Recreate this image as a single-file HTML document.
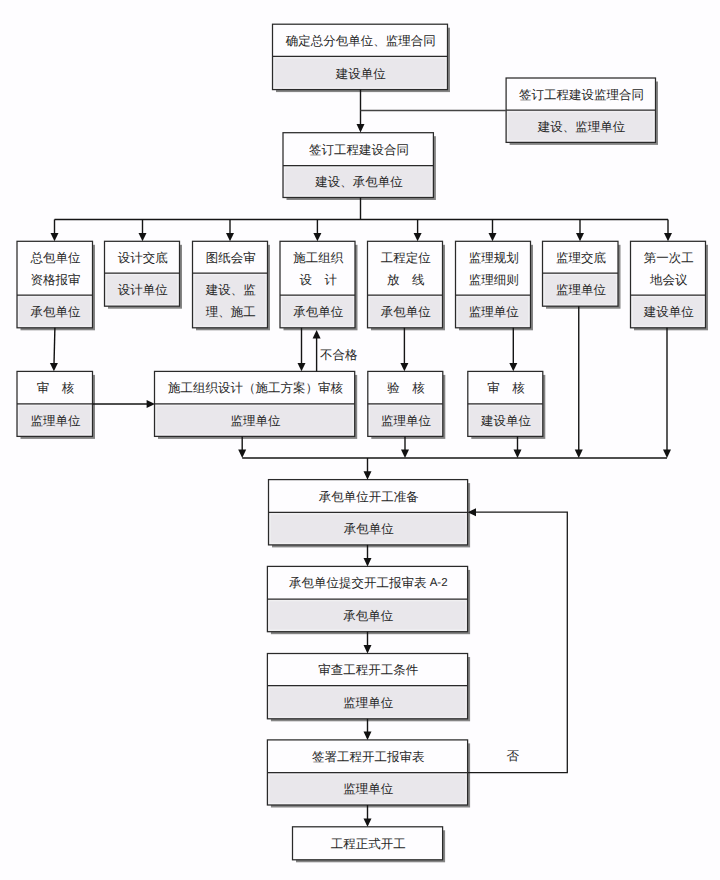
<!DOCTYPE html>
<html><head><meta charset="utf-8"><style>
html,body{margin:0;padding:0;background:#fefdff;width:720px;height:880px;overflow:hidden}
svg{display:block}
text{font-family:'Liberation Serif',serif;font-size:12.5px;fill:#262626;letter-spacing:0px;text-rendering:geometricPrecision}
</style></head><body>
<svg width="720" height="880" viewBox="0 0 720 880">
<rect x="276.0" y="27.7" width="174.0" height="64.4" fill="#858585"/>
<rect x="272.5" y="24.2" width="175.0" height="65.4" fill="#fefdff"/>
<rect x="272.5" y="56.3" width="175.0" height="33.3" fill="#e9e7eb"/>
<rect x="274.1" y="57.9" width="171.8" height="30.1" fill="none" stroke="#f2f1f3" stroke-width="1.1"/>
<line x1="272.5" y1="56.3" x2="447.5" y2="56.3" stroke="#2a2a2a" stroke-width="1.25"/>
<rect x="272.5" y="24.2" width="175.0" height="65.4" fill="none" stroke="#2a2a2a" stroke-width="1.25"/>
<text transform="translate(360.80,40.85)" x="0" y="0" text-anchor="middle" dominant-baseline="central">确定总分包单位、监理合同</text>
<text transform="translate(360.80,73.55)" x="0" y="0" text-anchor="middle" dominant-baseline="central">建设单位</text>
<rect x="509.6" y="81.5" width="148.4" height="63.4" fill="#858585"/>
<rect x="506.1" y="78" width="149.4" height="64.4" fill="#fefdff"/>
<rect x="506.1" y="110.2" width="149.4" height="32.2" fill="#e9e7eb"/>
<rect x="507.7" y="111.8" width="146.2" height="29" fill="none" stroke="#f2f1f3" stroke-width="1.1"/>
<line x1="506.1" y1="110.2" x2="655.5" y2="110.2" stroke="#2a2a2a" stroke-width="1.25"/>
<rect x="506.1" y="78" width="149.4" height="64.4" fill="none" stroke="#2a2a2a" stroke-width="1.25"/>
<text transform="translate(581.60,94.70)" x="0" y="0" text-anchor="middle" dominant-baseline="central">签订工程建设监理合同</text>
<text transform="translate(581.60,126.90)" x="0" y="0" text-anchor="middle" dominant-baseline="central">建设、监理单位</text>
<rect x="286.5" y="136.2" width="149.4" height="63.8" fill="#858585"/>
<rect x="283" y="132.7" width="150.4" height="64.8" fill="#fefdff"/>
<rect x="283" y="165.5" width="150.4" height="32.0" fill="#e9e7eb"/>
<rect x="284.6" y="167.1" width="147.2" height="28.8" fill="none" stroke="#f2f1f3" stroke-width="1.1"/>
<line x1="283" y1="165.5" x2="433.4" y2="165.5" stroke="#2a2a2a" stroke-width="1.25"/>
<rect x="283" y="132.7" width="150.4" height="64.8" fill="none" stroke="#2a2a2a" stroke-width="1.25"/>
<text transform="translate(359.00,149.70)" x="0" y="0" text-anchor="middle" dominant-baseline="central">签订工程建设合同</text>
<text transform="translate(359.00,182.10)" x="0" y="0" text-anchor="middle" dominant-baseline="central">建设、承包单位</text>
<rect x="20.5" y="244.8" width="74.5" height="85.5" fill="#858585"/>
<rect x="17" y="241.3" width="75.5" height="86.5" fill="#fefdff"/>
<rect x="17" y="295" width="75.5" height="32.8" fill="#e9e7eb"/>
<rect x="18.6" y="296.6" width="72.3" height="29.6" fill="none" stroke="#f2f1f3" stroke-width="1.1"/>
<line x1="17" y1="295" x2="92.5" y2="295" stroke="#2a2a2a" stroke-width="1.25"/>
<rect x="17" y="241.3" width="75.5" height="86.5" fill="none" stroke="#2a2a2a" stroke-width="1.25"/>
<text transform="translate(55.55,258.00)" x="0" y="0" text-anchor="middle" dominant-baseline="central">总包单位</text>
<text transform="translate(55.55,279.50)" x="0" y="0" text-anchor="middle" dominant-baseline="central">资格报审</text>
<text transform="translate(55.55,312.00)" x="0" y="0" text-anchor="middle" dominant-baseline="central">承包单位</text>
<rect x="108.0" y="244.8" width="74.0" height="63.9" fill="#858585"/>
<rect x="104.5" y="241.3" width="75.0" height="64.9" fill="#fefdff"/>
<rect x="104.5" y="273" width="75.0" height="33.2" fill="#e9e7eb"/>
<rect x="106.1" y="274.6" width="71.8" height="30" fill="none" stroke="#f2f1f3" stroke-width="1.1"/>
<line x1="104.5" y1="273" x2="179.5" y2="273" stroke="#2a2a2a" stroke-width="1.25"/>
<rect x="104.5" y="241.3" width="75.0" height="64.9" fill="none" stroke="#2a2a2a" stroke-width="1.25"/>
<text transform="translate(142.80,257.75)" x="0" y="0" text-anchor="middle" dominant-baseline="central">设计交底</text>
<text transform="translate(142.80,290.20)" x="0" y="0" text-anchor="middle" dominant-baseline="central">设计单位</text>
<rect x="196.0" y="244.8" width="74.0" height="85.5" fill="#858585"/>
<rect x="192.5" y="241.3" width="75.0" height="86.5" fill="#fefdff"/>
<rect x="192.5" y="273" width="75.0" height="54.8" fill="#e9e7eb"/>
<rect x="194.1" y="274.6" width="71.8" height="51.6" fill="none" stroke="#f2f1f3" stroke-width="1.1"/>
<line x1="192.5" y1="273" x2="267.5" y2="273" stroke="#2a2a2a" stroke-width="1.25"/>
<rect x="192.5" y="241.3" width="75.0" height="86.5" fill="none" stroke="#2a2a2a" stroke-width="1.25"/>
<text transform="translate(230.80,257.75)" x="0" y="0" text-anchor="middle" dominant-baseline="central">图纸会审</text>
<text transform="translate(230.80,290.25)" x="0" y="0" text-anchor="middle" dominant-baseline="central">建设、监</text>
<text transform="translate(230.80,311.75)" x="0" y="0" text-anchor="middle" dominant-baseline="central">理、施工</text>
<rect x="283.5" y="244.8" width="74" height="85.5" fill="#858585"/>
<rect x="280" y="241.3" width="75" height="86.5" fill="#fefdff"/>
<rect x="280" y="295" width="75" height="32.8" fill="#e9e7eb"/>
<rect x="281.6" y="296.6" width="71.8" height="29.6" fill="none" stroke="#f2f1f3" stroke-width="1.1"/>
<line x1="280" y1="295" x2="355" y2="295" stroke="#2a2a2a" stroke-width="1.25"/>
<rect x="280" y="241.3" width="75" height="86.5" fill="none" stroke="#2a2a2a" stroke-width="1.25"/>
<text transform="translate(318.30,258.00)" x="0" y="0" text-anchor="middle" dominant-baseline="central">施工组织</text>
<text transform="translate(318.30,279.50)" x="0" y="0" text-anchor="middle" dominant-baseline="central">设　计</text>
<text transform="translate(318.30,312.00)" x="0" y="0" text-anchor="middle" dominant-baseline="central">承包单位</text>
<rect x="371.0" y="244.8" width="74.0" height="85.5" fill="#858585"/>
<rect x="367.5" y="241.3" width="75.0" height="86.5" fill="#fefdff"/>
<rect x="367.5" y="295" width="75.0" height="32.8" fill="#e9e7eb"/>
<rect x="369.1" y="296.6" width="71.8" height="29.6" fill="none" stroke="#f2f1f3" stroke-width="1.1"/>
<line x1="367.5" y1="295" x2="442.5" y2="295" stroke="#2a2a2a" stroke-width="1.25"/>
<rect x="367.5" y="241.3" width="75.0" height="86.5" fill="none" stroke="#2a2a2a" stroke-width="1.25"/>
<text transform="translate(405.80,258.00)" x="0" y="0" text-anchor="middle" dominant-baseline="central">工程定位</text>
<text transform="translate(405.80,279.50)" x="0" y="0" text-anchor="middle" dominant-baseline="central">放　线</text>
<text transform="translate(405.80,312.00)" x="0" y="0" text-anchor="middle" dominant-baseline="central">承包单位</text>
<rect x="459.0" y="244.8" width="74.0" height="85.5" fill="#858585"/>
<rect x="455.5" y="241.3" width="75.0" height="86.5" fill="#fefdff"/>
<rect x="455.5" y="295" width="75.0" height="32.8" fill="#e9e7eb"/>
<rect x="457.1" y="296.6" width="71.8" height="29.6" fill="none" stroke="#f2f1f3" stroke-width="1.1"/>
<line x1="455.5" y1="295" x2="530.5" y2="295" stroke="#2a2a2a" stroke-width="1.25"/>
<rect x="455.5" y="241.3" width="75.0" height="86.5" fill="none" stroke="#2a2a2a" stroke-width="1.25"/>
<text transform="translate(493.80,258.00)" x="0" y="0" text-anchor="middle" dominant-baseline="central">监理规划</text>
<text transform="translate(493.80,279.50)" x="0" y="0" text-anchor="middle" dominant-baseline="central">监理细则</text>
<text transform="translate(493.80,312.00)" x="0" y="0" text-anchor="middle" dominant-baseline="central">监理单位</text>
<rect x="546.0" y="244.8" width="74.5" height="63.9" fill="#858585"/>
<rect x="542.5" y="241.3" width="75.5" height="64.9" fill="#fefdff"/>
<rect x="542.5" y="273" width="75.5" height="33.2" fill="#e9e7eb"/>
<rect x="544.1" y="274.6" width="72.3" height="30" fill="none" stroke="#f2f1f3" stroke-width="1.1"/>
<line x1="542.5" y1="273" x2="618" y2="273" stroke="#2a2a2a" stroke-width="1.25"/>
<rect x="542.5" y="241.3" width="75.5" height="64.9" fill="none" stroke="#2a2a2a" stroke-width="1.25"/>
<text transform="translate(581.05,257.75)" x="0" y="0" text-anchor="middle" dominant-baseline="central">监理交底</text>
<text transform="translate(581.05,290.20)" x="0" y="0" text-anchor="middle" dominant-baseline="central">监理单位</text>
<rect x="634.0" y="244.8" width="74.0" height="85.5" fill="#858585"/>
<rect x="630.5" y="241.3" width="75.0" height="86.5" fill="#fefdff"/>
<rect x="630.5" y="295" width="75.0" height="32.8" fill="#e9e7eb"/>
<rect x="632.1" y="296.6" width="71.8" height="29.6" fill="none" stroke="#f2f1f3" stroke-width="1.1"/>
<line x1="630.5" y1="295" x2="705.5" y2="295" stroke="#2a2a2a" stroke-width="1.25"/>
<rect x="630.5" y="241.3" width="75.0" height="86.5" fill="none" stroke="#2a2a2a" stroke-width="1.25"/>
<text transform="translate(668.80,258.00)" x="0" y="0" text-anchor="middle" dominant-baseline="central">第一次工</text>
<text transform="translate(668.80,279.50)" x="0" y="0" text-anchor="middle" dominant-baseline="central">地会议</text>
<text transform="translate(668.80,312.00)" x="0" y="0" text-anchor="middle" dominant-baseline="central">建设单位</text>
<rect x="20.5" y="374.9" width="74.5" height="64.0" fill="#858585"/>
<rect x="17" y="371.4" width="75.5" height="65.0" fill="#fefdff"/>
<rect x="17" y="403.8" width="75.5" height="32.6" fill="#e9e7eb"/>
<rect x="18.6" y="405.4" width="72.3" height="29.4" fill="none" stroke="#f2f1f3" stroke-width="1.1"/>
<line x1="17" y1="403.8" x2="92.5" y2="403.8" stroke="#2a2a2a" stroke-width="1.25"/>
<rect x="17" y="371.4" width="75.5" height="65.0" fill="none" stroke="#2a2a2a" stroke-width="1.25"/>
<text transform="translate(55.55,388.20)" x="0" y="0" text-anchor="middle" dominant-baseline="central">审　核</text>
<text transform="translate(55.55,420.70)" x="0" y="0" text-anchor="middle" dominant-baseline="central">监理单位</text>
<rect x="158.0" y="374.9" width="199.2" height="64.0" fill="#858585"/>
<rect x="154.5" y="371.4" width="200.2" height="65.0" fill="#fefdff"/>
<rect x="154.5" y="403.8" width="200.2" height="32.6" fill="#e9e7eb"/>
<rect x="156.1" y="405.4" width="197.0" height="29.4" fill="none" stroke="#f2f1f3" stroke-width="1.1"/>
<line x1="154.5" y1="403.8" x2="354.7" y2="403.8" stroke="#2a2a2a" stroke-width="1.25"/>
<rect x="154.5" y="371.4" width="200.2" height="65.0" fill="none" stroke="#2a2a2a" stroke-width="1.25"/>
<text transform="translate(255.40,388.20)" x="0" y="0" text-anchor="middle" dominant-baseline="central">施工组织设计（施工方案）审核</text>
<text transform="translate(255.40,420.70)" x="0" y="0" text-anchor="middle" dominant-baseline="central">监理单位</text>
<rect x="371.3" y="374.9" width="74.0" height="64.0" fill="#858585"/>
<rect x="367.8" y="371.4" width="75.0" height="65.0" fill="#fefdff"/>
<rect x="367.8" y="403.8" width="75.0" height="32.6" fill="#e9e7eb"/>
<rect x="369.4" y="405.4" width="71.8" height="29.4" fill="none" stroke="#f2f1f3" stroke-width="1.1"/>
<line x1="367.8" y1="403.8" x2="442.8" y2="403.8" stroke="#2a2a2a" stroke-width="1.25"/>
<rect x="367.8" y="371.4" width="75.0" height="65.0" fill="none" stroke="#2a2a2a" stroke-width="1.25"/>
<text transform="translate(406.10,388.20)" x="0" y="0" text-anchor="middle" dominant-baseline="central">验　核</text>
<text transform="translate(406.10,420.70)" x="0" y="0" text-anchor="middle" dominant-baseline="central">监理单位</text>
<rect x="471.3" y="374.9" width="74" height="64.0" fill="#858585"/>
<rect x="467.8" y="371.4" width="75" height="65.0" fill="#fefdff"/>
<rect x="467.8" y="403.8" width="75" height="32.6" fill="#e9e7eb"/>
<rect x="469.4" y="405.4" width="71.8" height="29.4" fill="none" stroke="#f2f1f3" stroke-width="1.1"/>
<line x1="467.8" y1="403.8" x2="542.8" y2="403.8" stroke="#2a2a2a" stroke-width="1.25"/>
<rect x="467.8" y="371.4" width="75" height="65.0" fill="none" stroke="#2a2a2a" stroke-width="1.25"/>
<text transform="translate(506.10,388.20)" x="0" y="0" text-anchor="middle" dominant-baseline="central">审　核</text>
<text transform="translate(506.10,420.70)" x="0" y="0" text-anchor="middle" dominant-baseline="central">建设单位</text>
<rect x="272.0" y="483.1" width="198.1" height="64.3" fill="#858585"/>
<rect x="268.5" y="479.6" width="199.1" height="65.3" fill="#fefdff"/>
<rect x="268.5" y="512.3" width="199.1" height="32.6" fill="#e9e7eb"/>
<rect x="270.1" y="513.9" width="195.9" height="29.4" fill="none" stroke="#f2f1f3" stroke-width="1.1"/>
<line x1="268.5" y1="512.3" x2="467.6" y2="512.3" stroke="#2a2a2a" stroke-width="1.25"/>
<rect x="268.5" y="479.6" width="199.1" height="65.3" fill="none" stroke="#2a2a2a" stroke-width="1.25"/>
<text transform="translate(368.85,496.55)" x="0" y="0" text-anchor="middle" dominant-baseline="central">承包单位开工准备</text>
<text transform="translate(368.85,529.20)" x="0" y="0" text-anchor="middle" dominant-baseline="central">承包单位</text>
<rect x="270.9" y="569.9" width="199.2" height="64.3" fill="#858585"/>
<rect x="267.4" y="566.4" width="200.2" height="65.3" fill="#fefdff"/>
<rect x="267.4" y="599.1" width="200.2" height="32.6" fill="#e9e7eb"/>
<rect x="269.0" y="600.7" width="197" height="29.4" fill="none" stroke="#f2f1f3" stroke-width="1.1"/>
<line x1="267.4" y1="599.1" x2="467.6" y2="599.1" stroke="#2a2a2a" stroke-width="1.25"/>
<rect x="267.4" y="566.4" width="200.2" height="65.3" fill="none" stroke="#2a2a2a" stroke-width="1.25"/>
<text transform="translate(368.30,583.35)" x="0" y="0" text-anchor="middle" dominant-baseline="central">承包单位提交开工报审表 <tspan style="font-family:'Liberation Sans',sans-serif;font-size:11.5px">A-2</tspan></text>
<text transform="translate(368.30,616.00)" x="0" y="0" text-anchor="middle" dominant-baseline="central">承包单位</text>
<rect x="270.9" y="657.0" width="199.2" height="64.3" fill="#858585"/>
<rect x="267.4" y="653.5" width="200.2" height="65.3" fill="#fefdff"/>
<rect x="267.4" y="685.7" width="200.2" height="33.1" fill="#e9e7eb"/>
<rect x="269.0" y="687.3" width="197" height="29.9" fill="none" stroke="#f2f1f3" stroke-width="1.1"/>
<line x1="267.4" y1="685.7" x2="467.6" y2="685.7" stroke="#2a2a2a" stroke-width="1.25"/>
<rect x="267.4" y="653.5" width="200.2" height="65.3" fill="none" stroke="#2a2a2a" stroke-width="1.25"/>
<text transform="translate(368.30,670.20)" x="0" y="0" text-anchor="middle" dominant-baseline="central">审查工程开工条件</text>
<text transform="translate(368.30,702.85)" x="0" y="0" text-anchor="middle" dominant-baseline="central">监理单位</text>
<rect x="270.9" y="743.4" width="199.2" height="64.1" fill="#858585"/>
<rect x="267.4" y="739.9" width="200.2" height="65.1" fill="#fefdff"/>
<rect x="267.4" y="772.6" width="200.2" height="32.4" fill="#e9e7eb"/>
<rect x="269.0" y="774.2" width="197" height="29.2" fill="none" stroke="#f2f1f3" stroke-width="1.1"/>
<line x1="267.4" y1="772.6" x2="467.6" y2="772.6" stroke="#2a2a2a" stroke-width="1.25"/>
<rect x="267.4" y="739.9" width="200.2" height="65.1" fill="none" stroke="#2a2a2a" stroke-width="1.25"/>
<text transform="translate(368.30,756.85)" x="0" y="0" text-anchor="middle" dominant-baseline="central">签署工程开工报审表</text>
<text transform="translate(368.30,789.40)" x="0" y="0" text-anchor="middle" dominant-baseline="central">监理单位</text>
<rect x="296.0" y="830.3" width="149.1" height="32.0" fill="#858585"/>
<rect x="292.5" y="826.8" width="150.1" height="33.0" fill="#fefdff"/>
<rect x="292.5" y="826.8" width="150.1" height="33.0" fill="none" stroke="#2a2a2a" stroke-width="1.25"/>
<text transform="translate(368.35,843.90)" x="0" y="0" text-anchor="middle" dominant-baseline="central">工程正式开工</text>
<line x1="360.5" y1="89.6" x2="360.5" y2="130" stroke="#151515" stroke-width="1.4"/>
<polygon points="356.5,124.1 364.5,124.1 360.5,132.5" fill="#111"/>
<line x1="360.5" y1="110.5" x2="506.5" y2="110.5" stroke="#444" stroke-width="1.4"/>
<line x1="360.5" y1="197.5" x2="360.5" y2="219.5" stroke="#151515" stroke-width="1.4"/>
<line x1="54.5" y1="219.5" x2="668" y2="219.5" stroke="#151515" stroke-width="1.4"/>
<line x1="54.5" y1="219.5" x2="54.5" y2="238" stroke="#151515" stroke-width="1.4"/>
<polygon points="50.5,232.9 58.5,232.9 54.5,241.3" fill="#111"/>
<line x1="142.5" y1="219.5" x2="142.5" y2="238" stroke="#151515" stroke-width="1.4"/>
<polygon points="138.5,232.9 146.5,232.9 142.5,241.3" fill="#111"/>
<line x1="230" y1="219.5" x2="230" y2="238" stroke="#151515" stroke-width="1.4"/>
<polygon points="226.0,232.9 234.0,232.9 230,241.3" fill="#111"/>
<line x1="317.4" y1="219.5" x2="317.4" y2="238" stroke="#151515" stroke-width="1.4"/>
<polygon points="313.4,232.9 321.4,232.9 317.4,241.3" fill="#111"/>
<line x1="417.6" y1="219.5" x2="417.6" y2="238" stroke="#151515" stroke-width="1.4"/>
<polygon points="413.6,232.9 421.6,232.9 417.6,241.3" fill="#111"/>
<line x1="492.5" y1="219.5" x2="492.5" y2="238" stroke="#151515" stroke-width="1.4"/>
<polygon points="488.5,232.9 496.5,232.9 492.5,241.3" fill="#111"/>
<line x1="580" y1="219.5" x2="580" y2="238" stroke="#151515" stroke-width="1.4"/>
<polygon points="576.0,232.9 584.0,232.9 580,241.3" fill="#111"/>
<line x1="668" y1="219.5" x2="668" y2="238" stroke="#151515" stroke-width="1.4"/>
<polygon points="664.0,232.9 672.0,232.9 668,241.3" fill="#111"/>
<line x1="54.9" y1="327.8" x2="53.9" y2="368" stroke="#111" stroke-width="1.4"/>
<polygon points="49.9,362.9 57.9,362.9 53.9,371.3" fill="#111"/>
<line x1="92.5" y1="404" x2="152" y2="404" stroke="#151515" stroke-width="1.4"/>
<polygon points="146.6,400.0 146.6,408.0 155,404" fill="#111"/>
<line x1="301.5" y1="327.8" x2="301.5" y2="368" stroke="#151515" stroke-width="1.4"/>
<polygon points="297.5,362.9 305.5,362.9 301.5,371.3" fill="#111"/>
<line x1="316.6" y1="334" x2="316.6" y2="371.3" stroke="#151515" stroke-width="1.4"/>
<polygon points="312.6,338.4 320.6,338.4 316.6,330" fill="#111"/>
<line x1="404.4" y1="327.8" x2="404.4" y2="368" stroke="#151515" stroke-width="1.4"/>
<polygon points="400.4,362.9 408.4,362.9 404.4,371.3" fill="#111"/>
<line x1="513.3" y1="327.8" x2="513.3" y2="368" stroke="#151515" stroke-width="1.4"/>
<polygon points="509.3,362.9 517.3,362.9 513.3,371.3" fill="#111"/>
<line x1="242.2" y1="436.4" x2="242.2" y2="455" stroke="#151515" stroke-width="1.4"/>
<polygon points="238.2,449.6 246.2,449.6 242.2,458" fill="#111"/>
<line x1="405" y1="436.4" x2="405" y2="455" stroke="#151515" stroke-width="1.4"/>
<polygon points="401.0,449.6 409.0,449.6 405,458" fill="#111"/>
<line x1="517.5" y1="436.4" x2="517.5" y2="455" stroke="#151515" stroke-width="1.4"/>
<polygon points="513.5,449.6 521.5,449.6 517.5,458" fill="#111"/>
<line x1="578.75" y1="306.2" x2="578.75" y2="455" stroke="#151515" stroke-width="1.4"/>
<polygon points="574.75,449.6 582.75,449.6 578.75,458" fill="#111"/>
<line x1="667" y1="327.8" x2="667" y2="455" stroke="#151515" stroke-width="1.4"/>
<polygon points="663.0,449.6 671.0,449.6 667,458" fill="#111"/>
<line x1="242.2" y1="458" x2="667" y2="458" stroke="#151515" stroke-width="1.4"/>
<line x1="367.5" y1="458" x2="367.5" y2="477" stroke="#151515" stroke-width="1.4"/>
<polygon points="363.5,471.3 371.5,471.3 367.5,479.7" fill="#111"/>
<line x1="367.5" y1="544.9" x2="367.5" y2="564.4" stroke="#151515" stroke-width="1.4"/>
<polygon points="363.5,558.0 371.5,558.0 367.5,566.4" fill="#111"/>
<line x1="367.5" y1="631.7" x2="367.5" y2="651.5" stroke="#151515" stroke-width="1.4"/>
<polygon points="363.5,645.1 371.5,645.1 367.5,653.5" fill="#111"/>
<line x1="367.5" y1="718.8" x2="367.5" y2="737.9" stroke="#151515" stroke-width="1.4"/>
<polygon points="363.5,731.5 371.5,731.5 367.5,739.9" fill="#111"/>
<line x1="367.5" y1="805" x2="367.5" y2="824.8" stroke="#151515" stroke-width="1.4"/>
<polygon points="363.5,818.4 371.5,818.4 367.5,826.8" fill="#111"/>
<polyline points="468,772.6 567.3,772.6 567.3,512.2 476,512.2" fill="none" stroke="#1a1a1a" stroke-width="1.3"/>
<polygon points="476.0,508.3 476.0,516.3 467.6,512.3" fill="#111"/>
<text transform="translate(338.80,354.60)" x="0" y="0" text-anchor="middle" dominant-baseline="central">不合格</text>
<text transform="translate(512.80,756.40)" x="0" y="0" text-anchor="middle" dominant-baseline="central">否</text>
</svg>
</body></html>
